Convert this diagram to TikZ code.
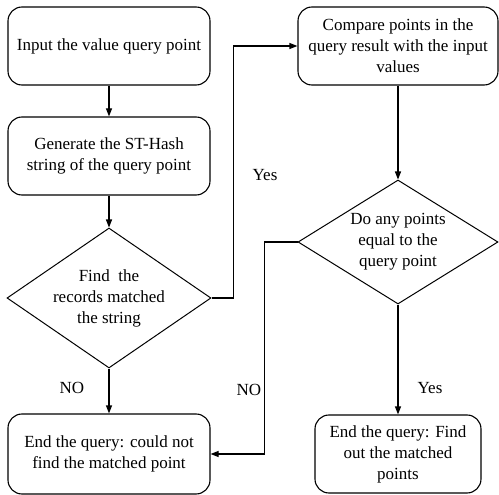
\documentclass[tikz,border=0pt]{standalone}
\usepackage{fontspec}
\setmainfont{Liberation Serif}
\usetikzlibrary{arrows.meta, shapes.geometric}
\tikzset{box/.style = {draw, rounded corners=14pt, line width=1.1pt, minimum height=78pt, align=center, inner sep=2pt}}
\tikzset{dec/.style = {draw, diamond, line width=1pt, align=center, inner sep=0pt}}
\tikzset{arr/.style = {-{Triangle[length=8pt, width=6pt]}, line width=1.1pt}}
\tikzset{lbl/.style = {inner sep=0pt}}

\begin{document}
\begin{tikzpicture}[x=1pt, y=-1pt, font=\fontsize{17}{21}\selectfont]
\useasboundingbox (0,0) rectangle (499,495);
% left column
\node [box, minimum width=202pt] (input) at (109,46) {Input the value query point};
\node [box, minimum width=202pt] (gen) at (109,156) {Generate the ST-Hash\\string of the query point};
\node [dec, aspect=1.46, minimum width=204pt, minimum height=140pt] (find) at (109,298) {Find~ the\\records matched\\the string};
\node [box, minimum width=202pt, minimum height=80pt] (nf) at (109,454) {End the query: could not\\find the matched point};
% right column
\node [box, minimum width=200pt] (cmp) at (398,46) {Compare points in the\\query result with the input\\values};
\node [dec, aspect=1.6, minimum width=200pt, minimum height=124pt] (eq) at (398,242) {Do any points\\equal to the\\query point};
\node [box, minimum width=166pt] (fo) at (398,454) {End the query: Find\\out the matched\\points};
% connectors
\draw [arr] (input) -- (gen);
\draw [arr] (gen) -- (find);
\draw [arr] (find.east) -- ++(22,0) |- (cmp.west);
\draw [arr] (find) -- (nf);
\draw [arr] (cmp) -- (eq);
\draw [arr] (eq) -- (fo);
\draw [arr] (eq.west) -- ++(-33,0) |- (nf.east);
% labels
\node [lbl] (yes1) at (265,175) {Yes};
\node [lbl] (no1) at (72,388) {NO};
\node [lbl] (no2) at (249,390) {NO};
\node [lbl] (yes2) at (430,388) {Yes};
\end{tikzpicture}
\end{document}
